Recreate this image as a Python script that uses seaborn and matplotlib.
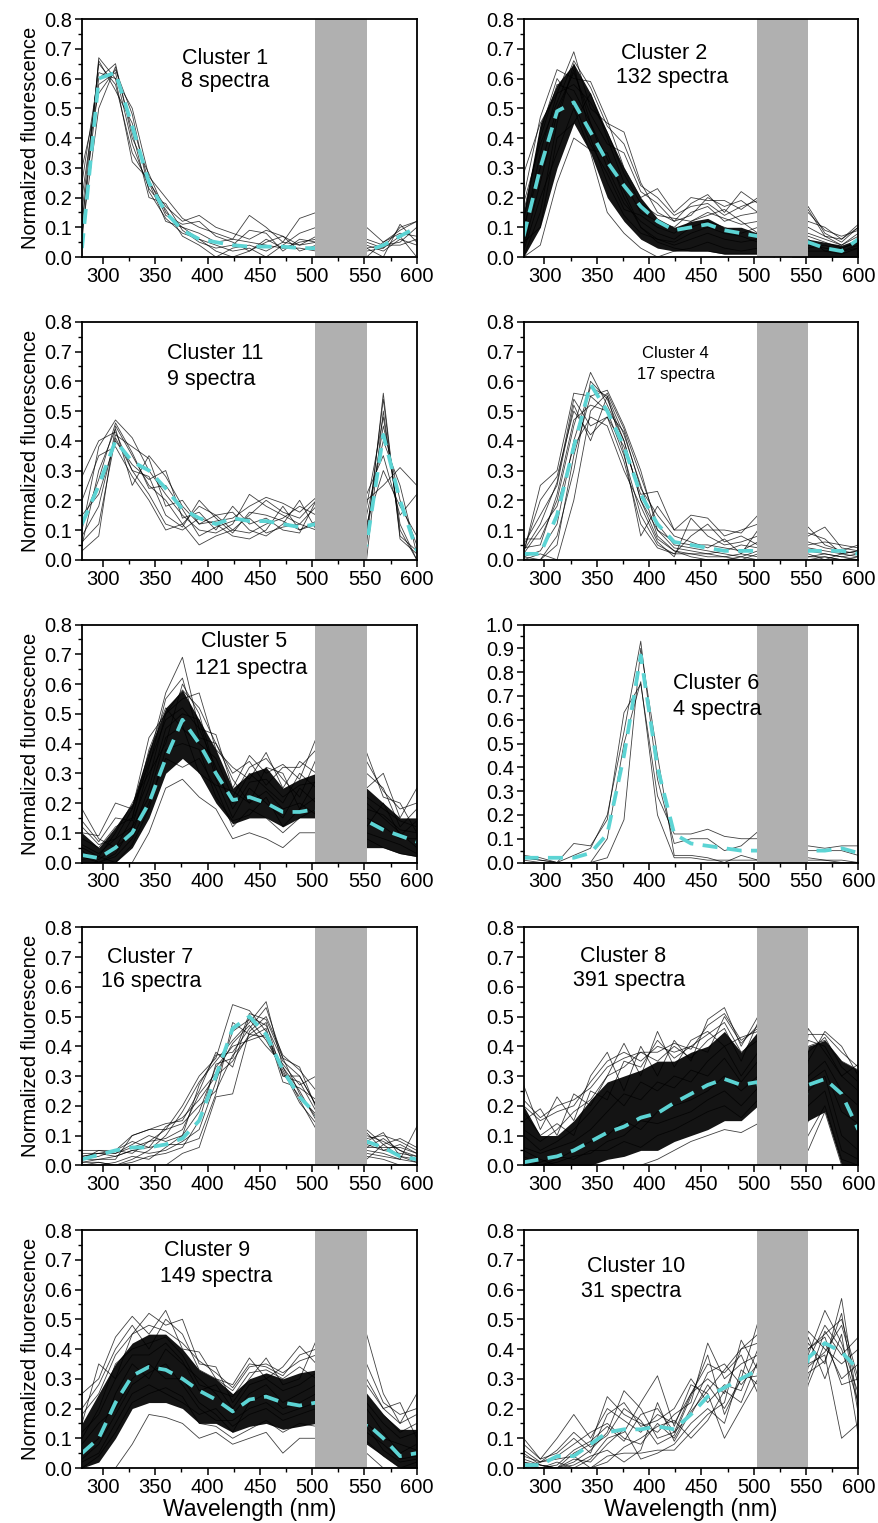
import numpy as np
import pandas as pd
import seaborn as sns
import matplotlib.pyplot as plt
from matplotlib.ticker import MultipleLocator, FormatStrFormatter

# wavelength grid of the spectra (nm); 520/536 fall inside the masked band
wavelength = [280, 296, 312, 328, 344, 360, 376, 392, 408, 424, 440,
              456, 472, 488, 504, 520, 536, 552, 568, 584, 600]

# ---- Cluster 1 (8 spectra)
c1_mean = [0.03, 0.60, 0.62, 0.44, 0.25, 0.15, 0.09, 0.06, 0.05, 0.04, 0.035,
           0.035, 0.035, 0.03, 0.03, 0, 0, 0.02, 0.04, 0.07, 0.10]
c1_spectra = [
    [0.05, 0.67, 0.60, 0.50, 0.27, 0.20, 0.13, 0.10, 0.08, 0.06, 0.05, 0.04, 0.03, 0.05, 0.06, 0, 0, 0.05, 0.03, 0.10, 0.12],
    [0.10, 0.66, 0.56, 0.45, 0.25, 0.17, 0.12, 0.14, 0.10, 0.08, 0.06, 0.09, 0.07, 0.04, 0.05, 0, 0, 0.10, 0.05, 0.08, 0.07],
    [0.20, 0.60, 0.65, 0.40, 0.28, 0.15, 0.10, 0.08, 0.05, 0.06, 0.14, 0.10, 0.05, 0.13, 0.15, 0, 0, 0.03, 0.00, 0.11, 0.05],
    [0.30, 0.55, 0.63, 0.48, 0.22, 0.13, 0.08, 0.06, 0.02, 0.00, 0.02, 0.05, 0.07, 0.02, 0.04, 0, 0, 0.06, 0.04, 0.05, 0.10],
    [0.15, 0.65, 0.58, 0.35, 0.25, 0.12, 0.10, 0.06, 0.04, 0.02, 0.03, 0.00, 0.04, 0.08, 0.10, 0, 0, 0.02, 0.03, 0.07, 0.00],
    [0.08, 0.50, 0.64, 0.42, 0.20, 0.18, 0.09, 0.05, 0.03, 0.04, 0.09, 0.08, 0.02, 0.06, 0.05, 0, 0, 0.00, 0.05, 0.09, 0.12],
    [0.25, 0.62, 0.60, 0.32, 0.26, 0.14, 0.11, 0.12, 0.07, 0.05, 0.02, 0.06, 0.03, 0.03, 0.02, 0, 0, 0.04, 0.02, 0.06, 0.04],
    [0.12, 0.58, 0.62, 0.38, 0.23, 0.16, 0.07, 0.04, 0.00, 0.03, 0.04, 0.02, 0.05, 0.04, 0.07, 0, 0, 0.03, 0.04, 0.04, 0.06],
]

# ---- Cluster 2 (132 spectra): dense core + edge spectra
c2_mean = [0.07, 0.30, 0.49, 0.52, 0.42, 0.32, 0.24, 0.17, 0.12, 0.09, 0.10,
           0.11, 0.09, 0.08, 0.07, 0, 0, 0.05, 0.03, 0.02, 0.06]
c2_core_lo = [0.00, 0.10, 0.30, 0.45, 0.35, 0.20, 0.12, 0.06, 0.03, 0.02, 0.02,
              0.02, 0.01, 0.01, 0.01, 0, 0, 0.00, 0.00, 0.00, 0.00]
c2_core_hi = [0.15, 0.45, 0.58, 0.65, 0.55, 0.42, 0.30, 0.20, 0.13, 0.10, 0.12,
              0.13, 0.10, 0.10, 0.08, 0, 0, 0.06, 0.05, 0.04, 0.06]
c2_spectra = [
    [0.28, 0.45, 0.55, 0.69, 0.50, 0.45, 0.42, 0.25, 0.15, 0.12, 0.18, 0.21, 0.15, 0.22, 0.18, 0, 0, 0.17, 0.08, 0.05, 0.10],
    [0.20, 0.47, 0.63, 0.60, 0.59, 0.46, 0.30, 0.20, 0.23, 0.15, 0.20, 0.19, 0.19, 0.16, 0.20, 0, 0, 0.12, 0.10, 0.06, 0.11],
    [0.00, 0.04, 0.25, 0.40, 0.36, 0.35, 0.20, 0.10, 0.05, 0.03, 0.02, 0.02, 0.01, 0.01, 0.01, 0, 0, 0.00, 0.00, 0.00, 0.00],
    [0.05, 0.10, 0.40, 0.45, 0.55, 0.40, 0.25, 0.15, 0.12, 0.10, 0.15, 0.17, 0.12, 0.14, 0.15, 0, 0, 0.10, 0.07, 0.04, 0.08],
    [0.02, 0.20, 0.35, 0.50, 0.35, 0.15, 0.08, 0.03, 0.00, 0.02, 0.03, 0.05, 0.03, 0.02, 0.03, 0, 0, 0.02, 0.02, 0.01, 0.03],
    [0.10, 0.30, 0.50, 0.62, 0.48, 0.38, 0.35, 0.22, 0.18, 0.12, 0.14, 0.20, 0.17, 0.19, 0.15, 0, 0, 0.15, 0.09, 0.07, 0.09],
    [0.15, 0.40, 0.58, 0.56, 0.45, 0.30, 0.18, 0.12, 0.08, 0.06, 0.10, 0.12, 0.10, 0.08, 0.10, 0, 0, 0.07, 0.05, 0.03, 0.05],
    [0.00, 0.15, 0.45, 0.65, 0.40, 0.25, 0.14, 0.08, 0.06, 0.04, 0.06, 0.08, 0.06, 0.05, 0.06, 0, 0, 0.04, 0.03, 0.02, 0.04],
    [0.08, 0.35, 0.55, 0.58, 0.52, 0.42, 0.28, 0.18, 0.14, 0.13, 0.12, 0.15, 0.13, 0.11, 0.12, 0, 0, 0.08, 0.06, 0.04, 0.07],
    [0.03, 0.25, 0.48, 0.63, 0.45, 0.33, 0.22, 0.10, 0.06, 0.05, 0.08, 0.10, 0.08, 0.07, 0.05, 0, 0, 0.03, 0.04, 0.02, 0.03],
    [0.12, 0.42, 0.60, 0.52, 0.38, 0.28, 0.16, 0.14, 0.10, 0.08, 0.12, 0.14, 0.16, 0.12, 0.08, 0, 0, 0.06, 0.02, 0.03, 0.05],
    [0.18, 0.38, 0.52, 0.66, 0.57, 0.44, 0.38, 0.24, 0.20, 0.14, 0.17, 0.18, 0.14, 0.17, 0.19, 0, 0, 0.16, 0.07, 0.06, 0.10],
]

# ---- Cluster 11 (9 spectra)
c11_mean = [0.12, 0.25, 0.40, 0.33, 0.30, 0.24, 0.17, 0.14, 0.12, 0.14, 0.13,
            0.13, 0.12, 0.11, 0.12, 0, 0, 0.05, 0.42, 0.20, 0.03]
c11_spectra = [
    [0.03, 0.08, 0.45, 0.35, 0.25, 0.20, 0.12, 0.05, 0.08, 0.10, 0.15, 0.20, 0.16, 0.14, 0.20, 0, 0, 0.05, 0.56, 0.07, 0.02],
    [0.28, 0.40, 0.43, 0.30, 0.22, 0.12, 0.10, 0.14, 0.12, 0.08, 0.07, 0.10, 0.18, 0.10, 0.12, 0, 0, 0.00, 0.50, 0.10, 0.00],
    [0.10, 0.38, 0.47, 0.41, 0.30, 0.22, 0.15, 0.10, 0.09, 0.12, 0.22, 0.18, 0.15, 0.12, 0.18, 0, 0, 0.10, 0.45, 0.20, 0.05],
    [0.05, 0.30, 0.44, 0.25, 0.35, 0.28, 0.18, 0.12, 0.15, 0.16, 0.10, 0.08, 0.12, 0.20, 0.10, 0, 0, 0.15, 0.40, 0.25, 0.02],
    [0.15, 0.22, 0.40, 0.32, 0.27, 0.30, 0.14, 0.16, 0.10, 0.18, 0.12, 0.14, 0.10, 0.09, 0.20, 0, 0, 0.20, 0.25, 0.31, 0.25],
    [0.08, 0.18, 0.42, 0.38, 0.34, 0.18, 0.20, 0.12, 0.13, 0.14, 0.18, 0.21, 0.19, 0.16, 0.21, 0, 0, 0.22, 0.35, 0.15, 0.22],
    [0.20, 0.35, 0.38, 0.28, 0.20, 0.10, 0.12, 0.18, 0.15, 0.10, 0.09, 0.12, 0.14, 0.18, 0.15, 0, 0, 0.08, 0.54, 0.08, 0.03],
    [0.12, 0.27, 0.46, 0.36, 0.24, 0.25, 0.17, 0.08, 0.11, 0.13, 0.14, 0.09, 0.11, 0.12, 0.10, 0, 0, 0.12, 0.30, 0.18, 0.08],
    [0.06, 0.12, 0.41, 0.30, 0.28, 0.15, 0.11, 0.20, 0.14, 0.09, 0.16, 0.15, 0.13, 0.10, 0.13, 0, 0, 0.18, 0.48, 0.12, 0.00],
]

# ---- Cluster 4 (17 spectra)
c4_mean = [0.02, 0.02, 0.15, 0.38, 0.59, 0.50, 0.38, 0.22, 0.12, 0.06, 0.05,
           0.04, 0.03, 0.03, 0.03, 0, 0, 0.03, 0.03, 0.03, 0.02]
c4_spectra = [
    [0.02, 0.25, 0.30, 0.56, 0.55, 0.50, 0.35, 0.15, 0.05, 0.02, 0.02, 0.01, 0.01, 0.00, 0.02, 0, 0, 0.01, 0.01, 0.00, 0.01],
    [0.07, 0.07, 0.20, 0.45, 0.63, 0.52, 0.40, 0.20, 0.10, 0.04, 0.03, 0.02, 0.03, 0.05, 0.04, 0, 0, 0.03, 0.02, 0.01, 0.02],
    [0.00, 0.00, 0.05, 0.35, 0.55, 0.57, 0.45, 0.30, 0.10, 0.06, 0.05, 0.05, 0.04, 0.03, 0.06, 0, 0, 0.04, 0.03, 0.02, 0.03],
    [0.03, 0.20, 0.28, 0.50, 0.42, 0.48, 0.38, 0.22, 0.23, 0.10, 0.15, 0.14, 0.08, 0.10, 0.12, 0, 0, 0.11, 0.05, 0.03, 0.05],
    [0.01, 0.03, 0.12, 0.40, 0.58, 0.55, 0.42, 0.25, 0.08, 0.03, 0.02, 0.02, 0.01, 0.02, 0.01, 0, 0, 0.00, 0.01, 0.00, 0.00],
    [0.05, 0.15, 0.25, 0.52, 0.40, 0.55, 0.36, 0.08, 0.18, 0.10, 0.10, 0.10, 0.10, 0.09, 0.15, 0, 0, 0.08, 0.11, 0.04, 0.03],
    [0.00, 0.02, 0.00, 0.20, 0.50, 0.56, 0.44, 0.28, 0.12, 0.05, 0.04, 0.03, 0.02, 0.01, 0.03, 0, 0, 0.02, 0.00, 0.02, 0.01],
    [0.02, 0.10, 0.18, 0.38, 0.48, 0.45, 0.30, 0.18, 0.06, 0.01, 0.14, 0.08, 0.05, 0.06, 0.08, 0, 0, 0.06, 0.04, 0.03, 0.02],
    [0.04, 0.05, 0.22, 0.47, 0.52, 0.50, 0.43, 0.24, 0.15, 0.08, 0.06, 0.04, 0.07, 0.02, 0.10, 0, 0, 0.05, 0.06, 0.05, 0.04],
    [0.01, 0.00, 0.08, 0.30, 0.60, 0.54, 0.40, 0.20, 0.07, 0.03, 0.01, 0.00, 0.00, 0.01, 0.00, 0, 0, 0.01, 0.02, 0.01, 0.00],
    [0.03, 0.12, 0.26, 0.54, 0.45, 0.48, 0.33, 0.12, 0.04, 0.02, 0.08, 0.12, 0.06, 0.08, 0.05, 0, 0, 0.09, 0.07, 0.02, 0.03],
]

# ---- Cluster 5 (121 spectra)
c5_mean = [0.025, 0.015, 0.05, 0.10, 0.20, 0.35, 0.48, 0.40, 0.30, 0.21, 0.22,
           0.20, 0.17, 0.17, 0.18, 0, 0, 0.14, 0.11, 0.09, 0.07]
c5_core_lo = [0.00, 0.00, 0.00, 0.05, 0.15, 0.30, 0.35, 0.30, 0.20, 0.13, 0.15,
              0.15, 0.12, 0.15, 0.15, 0, 0, 0.05, 0.05, 0.03, 0.02]
c5_core_hi = [0.10, 0.05, 0.12, 0.20, 0.38, 0.52, 0.58, 0.48, 0.38, 0.25, 0.30,
              0.32, 0.25, 0.28, 0.30, 0, 0, 0.25, 0.20, 0.15, 0.15]
c5_spectra = [
    [0.18, 0.08, 0.05, 0.15, 0.35, 0.57, 0.69, 0.45, 0.43, 0.25, 0.36, 0.30, 0.33, 0.28, 0.42, 0, 0, 0.37, 0.22, 0.20, 0.10],
    [0.10, 0.09, 0.20, 0.18, 0.42, 0.50, 0.55, 0.57, 0.38, 0.32, 0.28, 0.37, 0.25, 0.34, 0.30, 0, 0, 0.25, 0.30, 0.15, 0.25],
    [0.00, 0.00, 0.00, 0.00, 0.10, 0.25, 0.28, 0.22, 0.18, 0.08, 0.10, 0.08, 0.05, 0.10, 0.10, 0, 0, 0.00, 0.00, 0.00, 0.00],
    [0.05, 0.02, 0.10, 0.20, 0.30, 0.40, 0.60, 0.50, 0.30, 0.20, 0.30, 0.25, 0.20, 0.30, 0.25, 0, 0, 0.20, 0.15, 0.10, 0.05],
    [0.02, 0.00, 0.02, 0.08, 0.20, 0.35, 0.32, 0.35, 0.25, 0.12, 0.18, 0.15, 0.10, 0.15, 0.18, 0, 0, 0.08, 0.05, 0.03, 0.02],
    [0.08, 0.05, 0.12, 0.15, 0.38, 0.52, 0.45, 0.40, 0.35, 0.22, 0.32, 0.35, 0.28, 0.22, 0.35, 0, 0, 0.30, 0.25, 0.12, 0.18],
    [0.03, 0.01, 0.05, 0.10, 0.25, 0.45, 0.50, 0.48, 0.28, 0.15, 0.25, 0.20, 0.15, 0.25, 0.20, 0, 0, 0.15, 0.12, 0.08, 0.08],
    [0.12, 0.06, 0.08, 0.12, 0.32, 0.55, 0.62, 0.42, 0.40, 0.28, 0.20, 0.32, 0.30, 0.18, 0.28, 0, 0, 0.22, 0.18, 0.14, 0.12],
    [0.06, 0.03, 0.08, 0.18, 0.33, 0.48, 0.52, 0.45, 0.32, 0.18, 0.27, 0.28, 0.22, 0.26, 0.27, 0, 0, 0.18, 0.16, 0.11, 0.10],
    [0.01, 0.02, 0.00, 0.06, 0.18, 0.38, 0.40, 0.38, 0.22, 0.14, 0.16, 0.22, 0.12, 0.18, 0.22, 0, 0, 0.10, 0.08, 0.06, 0.03],
    [0.14, 0.07, 0.15, 0.14, 0.28, 0.50, 0.58, 0.52, 0.40, 0.30, 0.34, 0.26, 0.32, 0.32, 0.38, 0, 0, 0.34, 0.24, 0.18, 0.20],
    [0.04, 0.00, 0.03, 0.12, 0.22, 0.42, 0.46, 0.30, 0.26, 0.24, 0.20, 0.24, 0.18, 0.20, 0.16, 0, 0, 0.12, 0.20, 0.09, 0.14],
]

# ---- Cluster 6 (4 spectra)
c6_mean = [0.02, 0.02, 0.02, 0.02, 0.04, 0.12, 0.45, 0.87, 0.40, 0.12, 0.08,
           0.07, 0.06, 0.05, 0.05, 0, 0, 0.05, 0.05, 0.06, 0.04]
c6_spectra = [
    [0.03, 0.02, 0.00, 0.08, 0.07, 0.18, 0.63, 0.75, 0.28, 0.12, 0.12, 0.14, 0.11, 0.10, 0.10, 0, 0, 0.07, 0.06, 0.07, 0.07],
    [0.02, 0.01, 0.00, 0.03, 0.06, 0.20, 0.55, 0.93, 0.35, 0.08, 0.10, 0.10, 0.05, 0.07, 0.13, 0, 0, 0.05, 0.05, 0.05, 0.03],
    [0.01, 0.00, 0.00, 0.00, 0.00, 0.02, 0.18, 0.90, 0.45, 0.03, 0.03, 0.02, 0.00, 0.03, 0.01, 0, 0, 0.02, 0.01, 0.00, 0.00],
    [0.02, 0.01, 0.00, 0.00, 0.00, 0.10, 0.50, 0.76, 0.20, 0.02, 0.02, 0.01, 0.01, 0.01, 0.01, 0, 0, 0.01, 0.01, 0.01, 0.00],
]

# ---- Cluster 7 (16 spectra)
c7_mean = [0.02, 0.035, 0.05, 0.06, 0.06, 0.07, 0.09, 0.15, 0.30, 0.46, 0.50,
           0.44, 0.32, 0.23, 0.17, 0, 0, 0.08, 0.06, 0.03, 0.02]
c7_spectra = [
    [0.02, 0.05, 0.05, 0.10, 0.12, 0.14, 0.15, 0.25, 0.38, 0.33, 0.50, 0.47, 0.35, 0.30, 0.20, 0, 0, 0.10, 0.08, 0.05, 0.03],
    [0.00, 0.00, 0.00, 0.02, 0.05, 0.10, 0.18, 0.28, 0.35, 0.42, 0.48, 0.55, 0.33, 0.25, 0.15, 0, 0, 0.08, 0.11, 0.03, 0.02],
    [0.03, 0.04, 0.04, 0.06, 0.08, 0.12, 0.20, 0.30, 0.36, 0.54, 0.52, 0.45, 0.30, 0.28, 0.18, 0, 0, 0.05, 0.04, 0.02, 0.13],
    [0.01, 0.01, 0.00, 0.00, 0.00, 0.00, 0.04, 0.06, 0.23, 0.24, 0.45, 0.50, 0.37, 0.32, 0.25, 0, 0, 0.12, 0.07, 0.09, 0.06],
    [0.05, 0.05, 0.04, 0.07, 0.10, 0.08, 0.10, 0.18, 0.33, 0.40, 0.42, 0.44, 0.33, 0.22, 0.12, 0, 0, 0.03, 0.02, 0.00, 0.00],
    [0.02, 0.03, 0.05, 0.08, 0.06, 0.13, 0.16, 0.22, 0.30, 0.35, 0.44, 0.48, 0.30, 0.30, 0.20, 0, 0, 0.06, 0.06, 0.06, 0.04],
    [0.00, 0.00, 0.01, 0.03, 0.02, 0.06, 0.10, 0.27, 0.37, 0.38, 0.46, 0.53, 0.36, 0.24, 0.16, 0, 0, 0.07, 0.05, 0.04, 0.03],
    [0.03, 0.04, 0.03, 0.05, 0.04, 0.05, 0.08, 0.12, 0.28, 0.45, 0.49, 0.42, 0.32, 0.21, 0.14, 0, 0, 0.04, 0.03, 0.02, 0.01],
    [0.01, 0.02, 0.02, 0.10, 0.12, 0.12, 0.14, 0.20, 0.25, 0.37, 0.43, 0.46, 0.28, 0.26, 0.22, 0, 0, 0.09, 0.10, 0.08, 0.05],
    [0.04, 0.04, 0.05, 0.04, 0.08, 0.09, 0.12, 0.24, 0.31, 0.41, 0.47, 0.40, 0.34, 0.27, 0.30, 0, 0, 0.11, 0.05, 0.07, 0.04],
    [0.02, 0.02, 0.03, 0.05, 0.06, 0.07, 0.07, 0.09, 0.24, 0.48, 0.44, 0.43, 0.31, 0.23, 0.17, 0, 0, 0.06, 0.09, 0.05, 0.02],
    [0.00, 0.01, 0.00, 0.01, 0.03, 0.04, 0.06, 0.15, 0.34, 0.36, 0.51, 0.49, 0.36, 0.33, 0.19, 0, 0, 0.02, 0.07, 0.03, 0.01],
]

# ---- Cluster 8 (391 spectra)
c8_mean = [0.01, 0.02, 0.03, 0.05, 0.08, 0.11, 0.13, 0.16, 0.175, 0.21, 0.24,
           0.27, 0.29, 0.27, 0.28, 0, 0, 0.27, 0.29, 0.24, 0.12]
c8_core_lo = [0.00, 0.00, 0.00, 0.00, 0.00, 0.02, 0.03, 0.05, 0.05, 0.08, 0.10,
              0.12, 0.15, 0.15, 0.20, 0, 0, 0.15, 0.18, 0.00, 0.00]
c8_core_hi = [0.20, 0.10, 0.10, 0.15, 0.22, 0.28, 0.30, 0.32, 0.35, 0.35, 0.38,
              0.40, 0.45, 0.38, 0.45, 0, 0, 0.40, 0.42, 0.35, 0.32]
c8_spectra = [
    [0.27, 0.12, 0.23, 0.15, 0.30, 0.38, 0.25, 0.40, 0.30, 0.42, 0.35, 0.49, 0.53, 0.40, 0.50, 0, 0, 0.46, 0.38, 0.30, 0.34],
    [0.15, 0.19, 0.10, 0.24, 0.20, 0.30, 0.41, 0.30, 0.45, 0.33, 0.42, 0.45, 0.40, 0.43, 0.45, 0, 0, 0.35, 0.45, 0.40, 0.30],
    [0.05, 0.02, 0.00, 0.00, 0.00, 0.00, 0.00, 0.00, 0.02, 0.05, 0.08, 0.10, 0.12, 0.11, 0.14, 0, 0, 0.05, 0.18, 0.00, 0.00],
    [0.10, 0.05, 0.08, 0.12, 0.18, 0.25, 0.20, 0.28, 0.25, 0.30, 0.28, 0.35, 0.40, 0.30, 0.38, 0, 0, 0.30, 0.35, 0.25, 0.20],
    [0.02, 0.00, 0.02, 0.05, 0.08, 0.10, 0.15, 0.12, 0.18, 0.20, 0.22, 0.25, 0.30, 0.25, 0.30, 0, 0, 0.25, 0.30, 0.10, 0.05],
    [0.20, 0.15, 0.18, 0.20, 0.28, 0.35, 0.38, 0.35, 0.40, 0.38, 0.40, 0.44, 0.48, 0.38, 0.42, 0, 0, 0.40, 0.42, 0.35, 0.32],
    [0.00, 0.01, 0.03, 0.02, 0.05, 0.05, 0.08, 0.06, 0.10, 0.12, 0.15, 0.18, 0.20, 0.16, 0.22, 0, 0, 0.10, 0.20, 0.02, 0.00],
    [0.12, 0.08, 0.12, 0.18, 0.22, 0.30, 0.33, 0.38, 0.35, 0.40, 0.36, 0.42, 0.46, 0.35, 0.48, 0, 0, 0.42, 0.40, 0.30, 0.25],
    [0.18, 0.10, 0.14, 0.10, 0.25, 0.22, 0.35, 0.33, 0.42, 0.36, 0.40, 0.38, 0.50, 0.41, 0.47, 0, 0, 0.38, 0.43, 0.33, 0.28],
    [0.06, 0.04, 0.06, 0.08, 0.12, 0.18, 0.24, 0.22, 0.28, 0.26, 0.32, 0.30, 0.36, 0.28, 0.35, 0, 0, 0.28, 0.32, 0.18, 0.14],
    [0.03, 0.00, 0.01, 0.03, 0.04, 0.08, 0.10, 0.15, 0.14, 0.16, 0.18, 0.22, 0.25, 0.20, 0.26, 0, 0, 0.20, 0.25, 0.05, 0.02],
    [0.22, 0.16, 0.20, 0.22, 0.26, 0.33, 0.36, 0.38, 0.38, 0.41, 0.39, 0.47, 0.51, 0.42, 0.46, 0, 0, 0.44, 0.44, 0.38, 0.33],
]

# ---- Cluster 9 (149 spectra)
c9_mean = [0.05, 0.10, 0.22, 0.31, 0.34, 0.33, 0.30, 0.26, 0.23, 0.19, 0.23,
           0.24, 0.22, 0.21, 0.22, 0, 0, 0.15, 0.10, 0.04, 0.05]
c9_core_lo = [0.00, 0.02, 0.10, 0.20, 0.22, 0.22, 0.20, 0.15, 0.15, 0.12, 0.14,
              0.15, 0.13, 0.14, 0.15, 0, 0, 0.08, 0.04, 0.00, 0.00]
c9_core_hi = [0.15, 0.25, 0.35, 0.42, 0.45, 0.45, 0.40, 0.33, 0.30, 0.25, 0.30,
              0.32, 0.30, 0.32, 0.33, 0, 0, 0.25, 0.18, 0.13, 0.13]
c9_spectra = [
    [0.25, 0.30, 0.44, 0.51, 0.45, 0.53, 0.40, 0.39, 0.30, 0.28, 0.37, 0.30, 0.34, 0.41, 0.35, 0, 0, 0.45, 0.25, 0.15, 0.25],
    [0.15, 0.35, 0.30, 0.45, 0.52, 0.48, 0.50, 0.35, 0.34, 0.22, 0.30, 0.37, 0.28, 0.30, 0.43, 0, 0, 0.30, 0.20, 0.22, 0.10],
    [0.00, 0.00, 0.00, 0.08, 0.18, 0.17, 0.15, 0.10, 0.12, 0.08, 0.10, 0.12, 0.05, 0.10, 0.10, 0, 0, 0.05, 0.00, 0.00, 0.00],
    [0.05, 0.10, 0.25, 0.35, 0.30, 0.40, 0.35, 0.30, 0.25, 0.18, 0.25, 0.28, 0.22, 0.25, 0.28, 0, 0, 0.20, 0.12, 0.05, 0.08],
    [0.02, 0.05, 0.15, 0.25, 0.28, 0.25, 0.22, 0.18, 0.20, 0.14, 0.18, 0.20, 0.16, 0.18, 0.20, 0, 0, 0.12, 0.08, 0.03, 0.04],
    [0.10, 0.20, 0.35, 0.40, 0.42, 0.44, 0.38, 0.28, 0.26, 0.24, 0.32, 0.33, 0.30, 0.34, 0.30, 0, 0, 0.22, 0.15, 0.10, 0.12],
    [0.08, 0.15, 0.20, 0.30, 0.35, 0.30, 0.30, 0.22, 0.18, 0.12, 0.22, 0.25, 0.20, 0.22, 0.25, 0, 0, 0.15, 0.10, 0.08, 0.06],
    [0.20, 0.28, 0.40, 0.48, 0.40, 0.50, 0.45, 0.33, 0.30, 0.26, 0.34, 0.35, 0.32, 0.36, 0.38, 0, 0, 0.35, 0.22, 0.18, 0.20],
    [0.12, 0.18, 0.30, 0.38, 0.38, 0.42, 0.36, 0.26, 0.28, 0.20, 0.28, 0.30, 0.26, 0.28, 0.32, 0, 0, 0.25, 0.18, 0.12, 0.15],
    [0.03, 0.08, 0.18, 0.28, 0.32, 0.35, 0.28, 0.20, 0.16, 0.16, 0.20, 0.22, 0.18, 0.20, 0.22, 0, 0, 0.14, 0.06, 0.02, 0.03],
    [0.18, 0.25, 0.38, 0.45, 0.48, 0.46, 0.42, 0.36, 0.32, 0.27, 0.35, 0.34, 0.31, 0.38, 0.40, 0, 0, 0.28, 0.20, 0.15, 0.18],
    [0.00, 0.04, 0.12, 0.22, 0.25, 0.27, 0.24, 0.15, 0.14, 0.10, 0.13, 0.16, 0.12, 0.15, 0.14, 0, 0, 0.09, 0.04, 0.00, 0.02],
]

# ---- Cluster 10 (31 spectra)
c10_mean = [0.01, 0.01, 0.04, 0.04, 0.08, 0.12, 0.13, 0.13, 0.14, 0.13, 0.18,
            0.24, 0.27, 0.30, 0.33, 0, 0, 0.37, 0.42, 0.39, 0.33]
c10_spectra = [
    [0.10, 0.03, 0.10, 0.18, 0.10, 0.20, 0.16, 0.12, 0.18, 0.15, 0.25, 0.30, 0.25, 0.40, 0.45, 0, 0, 0.40, 0.45, 0.50, 0.30],
    [0.00, 0.00, 0.00, 0.05, 0.08, 0.24, 0.18, 0.15, 0.12, 0.18, 0.22, 0.42, 0.30, 0.35, 0.38, 0, 0, 0.42, 0.35, 0.57, 0.20],
    [0.05, 0.01, 0.00, 0.02, 0.06, 0.12, 0.26, 0.20, 0.10, 0.12, 0.18, 0.28, 0.20, 0.30, 0.49, 0, 0, 0.46, 0.40, 0.35, 0.40],
    [0.02, 0.00, 0.02, 0.00, 0.03, 0.10, 0.12, 0.22, 0.31, 0.14, 0.28, 0.25, 0.10, 0.20, 0.30, 0, 0, 0.38, 0.53, 0.42, 0.25],
    [0.00, 0.02, 0.04, 0.08, 0.12, 0.15, 0.10, 0.08, 0.15, 0.10, 0.20, 0.32, 0.35, 0.28, 0.35, 0, 0, 0.35, 0.38, 0.10, 0.15],
    [0.03, 0.01, 0.00, 0.00, 0.00, 0.04, 0.05, 0.05, 0.06, 0.06, 0.12, 0.18, 0.22, 0.43, 0.33, 0, 0, 0.30, 0.46, 0.38, 0.44],
    [0.08, 0.03, 0.05, 0.10, 0.05, 0.18, 0.22, 0.14, 0.16, 0.20, 0.30, 0.22, 0.28, 0.26, 0.40, 0, 0, 0.44, 0.30, 0.45, 0.11],
    [0.01, 0.00, 0.00, 0.03, 0.02, 0.08, 0.13, 0.03, 0.05, 0.08, 0.15, 0.20, 0.15, 0.33, 0.28, 0, 0, 0.28, 0.42, 0.30, 0.35],
    [0.00, 0.00, 0.01, 0.06, 0.09, 0.14, 0.09, 0.18, 0.20, 0.12, 0.25, 0.35, 0.32, 0.38, 0.25, 0, 0, 0.36, 0.48, 0.40, 0.22],
    [0.04, 0.02, 0.03, 0.04, 0.00, 0.02, 0.07, 0.10, 0.14, 0.16, 0.10, 0.16, 0.26, 0.22, 0.36, 0, 0, 0.32, 0.36, 0.52, 0.18],
    [0.02, 0.01, 0.00, 0.01, 0.04, 0.06, 0.02, 0.06, 0.22, 0.09, 0.19, 0.26, 0.33, 0.40, 0.42, 0, 0, 0.40, 0.44, 0.28, 0.30],
    [0.06, 0.02, 0.06, 0.12, 0.07, 0.11, 0.20, 0.16, 0.08, 0.11, 0.24, 0.38, 0.18, 0.30, 0.31, 0, 0, 0.34, 0.39, 0.48, 0.28],
]

# panel order as in the figure (row by row, left then right)
panels = [
    dict(title="Cluster 1", n="8 spectra", mean=c1_mean, spectra=c1_spectra, core=None),
    dict(title="Cluster 2", n="132 spectra", mean=c2_mean, spectra=c2_spectra, core=(c2_core_lo, c2_core_hi)),
    dict(title="Cluster 11", n="9 spectra", mean=c11_mean, spectra=c11_spectra, core=None),
    dict(title="Cluster 4", n="17 spectra", mean=c4_mean, spectra=c4_spectra, core=None),
    dict(title="Cluster 5", n="121 spectra", mean=c5_mean, spectra=c5_spectra, core=(c5_core_lo, c5_core_hi)),
    dict(title="Cluster 6", n="4 spectra", mean=c6_mean, spectra=c6_spectra, core=None),
    dict(title="Cluster 7", n="16 spectra", mean=c7_mean, spectra=c7_spectra, core=None),
    dict(title="Cluster 8", n="391 spectra", mean=c8_mean, spectra=c8_spectra, core=(c8_core_lo, c8_core_hi)),
    dict(title="Cluster 9", n="149 spectra", mean=c9_mean, spectra=c9_spectra, core=(c9_core_lo, c9_core_hi)),
    dict(title="Cluster 10", n="31 spectra", mean=c10_mean, spectra=c10_spectra, core=None),
]

# label placement (data coords): (x1, y1, x2, y2, ha, fontsize)
label_pos = [
    (376, 0.668, 375, 0.590, "left", 15.5),
    (373, 0.685, 368, 0.605, "left", 15.5),
    (361, 0.693, 361, 0.605, "left", 15.5),
    (425, 0.693, 426, 0.623, "center", 12),
    (435, 0.744, 442, 0.652, "center", 15.5),
    (423, 0.751, 423, 0.643, "left", 15.5),
    (304, 0.697, 298, 0.619, "left", 15.5),
    (375, 0.703, 381, 0.622, "center", 15.5),
    (400, 0.731, 408, 0.643, "center", 15.5),
    (341, 0.677, 335, 0.593, "left", 15.5),
]

CYAN = "#5cd4d4"
BAND = "#b0b0b0"


def long_form(spectra):
    rows = []
    for k, spec in enumerate(spectra):
        for w, v in zip(wavelength, spec):
            rows.append((k, w, v))
    return pd.DataFrame(rows, columns=["spectrum", "wavelength", "value"])


sns.set_theme(style="ticks")
plt.rcParams['font.family'] = ['Liberation Sans', 'DejaVu Sans']
plt.rcParams['text.color'] = 'black'
plt.rcParams['axes.labelcolor'] = 'black'

fig, axes = plt.subplots(5, 2, figsize=(8.79, 15.23), dpi=100)
fig.subplots_adjust(left=0.0933, right=0.9765, top=0.9875, bottom=0.0361,
                    hspace=0.272, wspace=0.319)

for i, (ax, p) in enumerate(zip(axes.flat, panels)):
    if p["core"] is not None:
        ax.fill_between(wavelength, p["core"][0], p["core"][1],
                        color="black", lw=0, alpha=0.92, zorder=1)
    sns.lineplot(data=long_form(p["spectra"]), x="wavelength", y="value",
                 units="spectrum", estimator=None, color="black",
                 lw=0.6, alpha=0.75, ax=ax, legend=False, zorder=2)
    sns.lineplot(x=wavelength, y=p["mean"], color=CYAN, lw=2.7,
                 linestyle=(0, (4, 2.5)), ax=ax, zorder=3)
    # masked region
    ax.axvspan(503, 552, ymin=0.0, ymax=1, color=BAND, lw=0, zorder=4)

    ymax = 1.0 if p["title"] == "Cluster 6" else 0.8
    ax.set_xlim(280, 600)
    ax.set_ylim(0, ymax)
    ax.xaxis.set_major_locator(MultipleLocator(50))
    ax.xaxis.set_minor_locator(MultipleLocator(25))
    ax.yaxis.set_major_locator(MultipleLocator(0.1))
    ax.yaxis.set_minor_locator(MultipleLocator(0.05))
    ax.yaxis.set_major_formatter(FormatStrFormatter("%.1f"))
    ax.tick_params(which="major", direction="out", length=5, width=1.1,
                   labelsize=14.5, pad=2, color="black", labelcolor="black")
    ax.tick_params(which="minor", direction="out", length=3, width=1.0,
                   color="black")
    for s in ax.spines.values():
        s.set_linewidth(1.3)
        s.set_color("black")
        s.set_zorder(5)

    x1, y1, x2, y2, ha, fs = label_pos[i]
    ax.text(x1, y1, p["title"], ha=ha, va="center", fontsize=fs, zorder=6)
    ax.text(x2, y2, p["n"], ha=ha, va="center", fontsize=fs, zorder=6)

    ax.set_xlabel("")
    ax.set_ylabel("")
    if i % 2 == 0:
        ax.set_ylabel("Normalized fluorescence", fontsize=14.5, labelpad=3)
    if i >= 8:
        ax.set_xlabel("Wavelength (nm)", fontsize=16.5, labelpad=1)

fig.savefig("out.png", dpi=100)
